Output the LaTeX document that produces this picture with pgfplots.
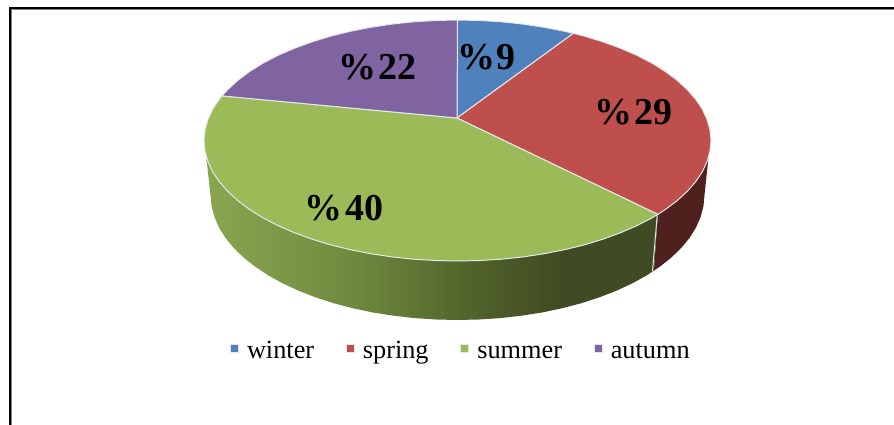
\documentclass[border=0pt]{standalone}
\usepackage{pgfplots}
\usepackage{fontspec}
\setmainfont{Liberation Serif}
\pgfplotsset{compat=1.18}
\definecolor{cwin}{HTML}{4F81BD}
\definecolor{cspr}{HTML}{BE4F4C}
\definecolor{csum}{HTML}{9BBB59}
\definecolor{caut}{HTML}{8064A2}
\definecolor{edge}{HTML}{E4E8EA}
\definecolor{gA}{HTML}{8AA650}
\definecolor{gB}{HTML}{6F8A3E}
\definecolor{gC}{HTML}{4F6029}
\definecolor{gD}{HTML}{3F4B22}
\definecolor{rD}{HTML}{4E201E}
\pgfdeclarehorizontalshading{greenside}{100bp}{color(0bp)=(gA); color(25bp)=(gA); color(41bp)=(gB); color(55.5bp)=(gC); color(64.5bp)=(gD); color(100bp)=(gD)}
\begin{document}
\begin{tikzpicture}
\begin{axis}[
  scale only axis, width=894pt, height=425pt,
  xmin=0, xmax=894, ymin=0, ymax=425, y dir=reverse,
  hide axis, no markers,
  legend columns=4,
  legend image code/.code={\path[draw=none,fill=none] (0pt,6pt) rectangle (16.5pt,14pt);\fill[#1] (0pt,6pt) rectangle (8pt,14pt);},
  legend style={draw=none, fill=none, at={(axis cs:230,351)}, anchor=west, inner sep=0pt, outer sep=0pt,
    font=\fontsize{26.3}{30}\selectfont,
    /tikz/every even column/.append style={column sep=31.7pt},
    cells={anchor=base west},
    nodes={inner sep=0pt, outer sep=0pt}},
]
\addplot[forget plot, draw=none] coordinates {(0,0)(894,425)};
% frame
\addplot[forget plot, color=gray, line width=1pt] coordinates {(11.8,425)(11.8,9.8)(894,9.8)};
\addplot[forget plot, color=black, line width=2.6pt] coordinates {(10,425)(10,8)(894,8)};
% side: spring
\addplot[forget plot, draw=none, fill=rD] coordinates {
(708.5,157.3)(707.1,161.4)(702.4,171.7)(695.7,181.7)(687.2,191.4)(677,200.8)(665.2,209.6)(657.8,214.4)
(654,270.5)(659.8,266.7)(671.4,257.5)(681.4,247.8)(689.6,237.8)(696.1,227.4)(700.7,216.7)(703.5,205.9)(704.5,195)(708.5,157.3)};
% side: summer
\addplot[forget plot, draw=none, shade, shading=greenside] coordinates {
(657.8,214.4)(651.7,218)(636.8,225.7)(620.4,232.8)(602.9,239.2)(584.3,244.9)(564.6,249.7)(544.2,253.7)(523.1,256.9)(501.5,259.2)(479.6,260.5)(457.5,261)(435.4,260.5)(413.5,259.2)(391.9,256.9)(370.8,253.7)(350.4,249.7)(330.7,244.9)(312.1,239.2)(294.6,232.8)(278.2,225.7)(263.3,218)(249.8,209.6)(238,200.8)(227.8,191.4)(219.3,181.7)(212.6,171.7)(206.3,157.5)
(210.5,195)(211.5,205.9)(214.3,216.7)(218.9,227.4)(225.4,237.8)(233.6,247.8)(243.6,257.5)(255.2,266.7)(268.3,275.4)(282.8,283.4)(298.7,290.8)(315.8,297.4)(334,303.3)(353.1,308.3)(373,312.5)(393.6,315.7)(414.6,318.1)(436,319.5)(457.5,320)(479,319.5)(500.4,318.1)(521.4,315.7)(542,312.5)(561.9,308.3)(581,303.3)(599.2,297.4)(616.3,290.8)(632.2,283.4)(646.7,275.4)(654,270.5)(657.8,214.4)};
\addplot[forget plot, color=edge, line width=1pt] coordinates {(657.3,214.4)(652.5,271)};
% top: winter
\addplot[fill=cwin, draw=edge, line width=1pt] coordinates {
(457,118)(457.5,20)(479.6,20.5)(501.5,21.8)(523.1,24.1)(544.2,27.3)(564.6,31.3)(573.4,33.3)(457,118)};
\addlegendentry{winter}
% top: spring
\addplot[fill=cspr, draw=edge, line width=1pt] coordinates {
(457,118)(573.4,33.3)(584.3,36.1)(602.9,41.8)(620.4,48.2)(636.8,55.3)(651.7,63)(665.2,71.4)(677,80.2)(687.2,89.6)(695.7,99.3)(702.4,109.3)(707.1,119.6)(710,130)(711,140.5)(710,151)(707.1,161.4)(702.4,171.7)(695.7,181.7)(687.2,191.4)(677,200.8)(665.2,209.6)(657.8,214.4)(457,118)};
\addlegendentry{spring}
% top: summer
\addplot[fill=csum, draw=edge, line width=1pt] coordinates {
(457,118)(657.8,214.4)(651.7,218)(636.8,225.7)(620.4,232.8)(602.9,239.2)(584.3,244.9)(564.6,249.7)(544.2,253.7)(523.1,256.9)(501.5,259.2)(479.6,260.5)(457.5,261)(435.4,260.5)(413.5,259.2)(391.9,256.9)(370.8,253.7)(350.4,249.7)(330.7,244.9)(312.1,239.2)(294.6,232.8)(278.2,225.7)(263.3,218)(249.8,209.6)(238,200.8)(227.8,191.4)(219.3,181.7)(212.6,171.7)(207.9,161.4)(205,151)(204,140.5)(205,130)(207.9,119.6)(212.6,109.3)(219.3,99.3)(222,95.9)(457,118)};
\addlegendentry{summer}
% top: autumn
\addplot[fill=caut, draw=edge, line width=1pt] coordinates {
(457,118)(222,95.9)(227.8,89.6)(238,80.2)(249.8,71.4)(263.3,63)(278.2,55.3)(294.6,48.2)(312.1,41.8)(330.7,36.1)(350.4,31.3)(370.8,27.3)(391.9,24.1)(413.5,21.8)(435.4,20.5)(457.5,20)(457,118)};
\addlegendentry{autumn}
% data labels
\node[font=\fontsize{38}{40}\selectfont\bfseries] at (axis cs:486.5,57) {\%\kern2pt 9};
\node[font=\fontsize{38}{40}\selectfont\bfseries] at (axis cs:633.5,112) {\%\kern2.5pt 29};
\node[font=\fontsize{38}{40}\selectfont\bfseries] at (axis cs:344,208) {\%\kern2.5pt 40};
\node[font=\fontsize{38}{40}\selectfont\bfseries] at (axis cs:377.5,67) {\%\kern2.5pt 22};
\end{axis}
\end{tikzpicture}
\end{document}
